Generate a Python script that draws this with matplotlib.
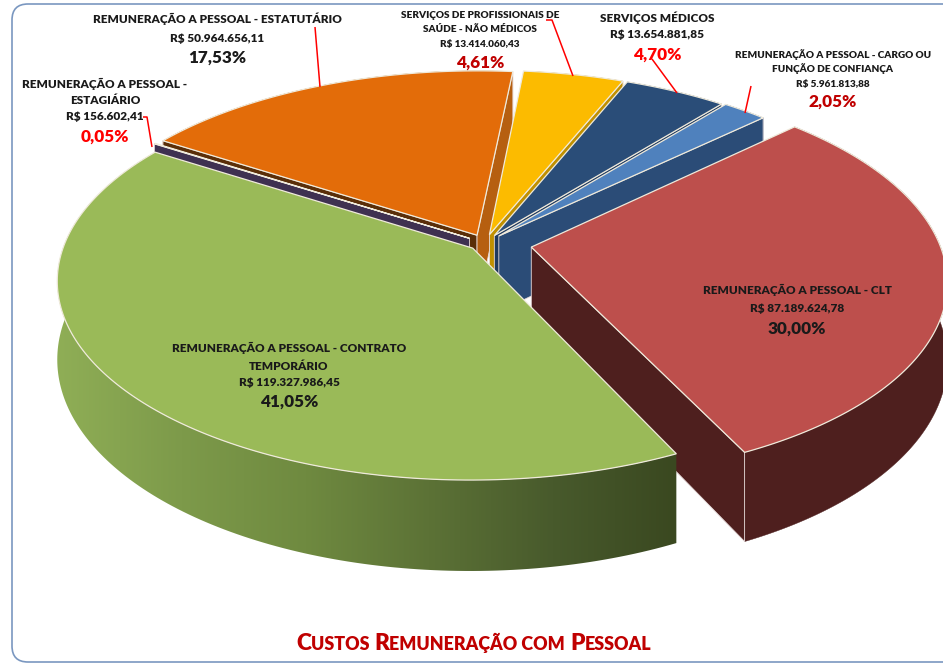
import numpy as np
import matplotlib
matplotlib.use("Agg")
import matplotlib.pyplot as plt
from matplotlib.colors import LinearSegmentedColormap
from matplotlib.patches import FancyBboxPatch, Polygon

plt.rcParams["font.family"] = ["Lato", "DejaVu Sans"]

# clockwise order of the slices, starting at the red one
categories = ["CLT", "CONTRATO TEMPORÁRIO", "ESTAGIÁRIO", "ESTATUTÁRIO",
              "PROFISSIONAIS", "MÉDICOS", "CONFIANÇA"]
values = [87189624.78, 119327986.45, 156602.41, 50964656.11,
          13414060.43, 13654881.85, 5961813.88]
percent_labels = ["30,00%", "41,05%", "0,05%", "17,53%", "4,61%", "4,70%", "2,05%"]
value_labels = ["R$ 87.189.624,78", "R$ 119.327.986,45", "R$ 156.602,41",
                "R$ 50.964.656,11", "R$ 13.414.060,43", "R$ 13.654.881,85",
                "R$ 5.961.813,88"]

# styling per slice
explode = [0.115, 0.04, 0.045, 0.045, 0.045, 0.045, 0.05]
top_colors = ["#bd4f4c", "#9aba58", "#8064a2", "#e36c09", "#fcbb00", "#2a4d78", "#4f81bd"]
rim_colors = ["#4e1f1e", "#5c7236", "#3f3151", "#b65f10", "#c09000", "#1f3a5f", "#2b4c77"]
start_face = ["#4e1f1e", "#4e6030", "#3f3151", "#5a2e08", "#c09000", "#1f3a5f", "#a9c0dd"]
end_face = ["#4e1f1e", "#3a4820", "#3f3151", "#b65f10", "#c09000", "#1f3a5f", "#2b4c77"]
draw_order = [3, 4, 5, 6, 2, 0, 1]

START_ANGLE = 43.4
CX, CY = 485.0, 243.0  # plane origin in pixels
A, B = 408.0, 193.0
K = 0.16  # perspective
DEPTH = 76.0
LABEL = 8.45
SMALL = 7.2
PCT = 12.3
WEIGHT = "heavy"


def project(x, y, z=0.0):
    w = 1 + K * y
    return np.column_stack([CX + A * x / w, CY - (B * y - DEPTH * z) / w])


def area(pts):
    x, y = pts[:, 0], pts[:, 1]
    return np.sum(x * np.roll(y, -1) - np.roll(x, -1) * y)


fig = plt.figure(figsize=(9.43, 6.63), dpi=100)
ax = fig.add_axes([0, 0, 1, 1])
ax.set_xlim(0, 943)
ax.set_ylim(663, 0)
ax.axis("off")

ax.add_patch(FancyBboxPatch((12, 4), 976, 658, boxstyle="round,pad=0,rounding_size=16",
                            fc="white", ec="#7a97c0", lw=1.2, zorder=0))

sweeps = 360.0 * np.array(values) / np.sum(values)
stops = START_ANGLE - np.concatenate([[0], np.cumsum(sweeps)])

green_cmap = LinearSegmentedColormap.from_list(
    "wall", ["#8fae56", "#7d9a4a", "#6f8a40", "#5c7236", "#485a2c", "#3a4820"])

z = 1
for i in draw_order:
    a1, a2 = stops[i], stops[i + 1]
    mid = np.radians((a1 + a2) / 2)
    ox, oy = explode[i] * np.cos(mid), explode[i] * np.sin(mid)
    th = np.radians(np.linspace(a1, a2, 160))
    rx, ry = ox + np.cos(th), oy + np.sin(th)
    top = project(rx, ry)
    bottom = project(rx, ry, 1.0)
    apex_top = project(np.array([ox]), np.array([oy]))
    apex_bot = project(np.array([ox]), np.array([oy]), 1.0)

    wall = np.vstack([top, bottom[::-1]])
    if i == 1:
        img = ax.imshow(np.linspace(0, 1, 256)[None, :], cmap=green_cmap,
                        extent=[57, 678, 580, 150], aspect="auto", zorder=z)
        clip = Polygon(wall, closed=True, fill=False, lw=0, zorder=z)
        ax.add_patch(clip)
        img.set_clip_path(clip)
    else:
        ax.add_patch(Polygon(wall, closed=True, fc=rim_colors[i], ec=rim_colors[i],
                             lw=0.3, zorder=z))
    z += 1

    # radial side walls, only the ones that face the viewer
    start_pts = np.vstack([apex_top, top[0], bottom[0], apex_bot])
    end_pts = np.vstack([apex_top, top[-1], bottom[-1], apex_bot])
    if area(start_pts) < 0:
        ax.add_patch(Polygon(start_pts, closed=True, fc=start_face[i], ec="#e8dcdc",
                             lw=0.6, zorder=z))
        z += 1
    if area(end_pts) > 0:
        ax.add_patch(Polygon(end_pts, closed=True, fc=end_face[i], ec="#e8dcdc",
                             lw=0.6, zorder=z))
        z += 1

    ax.add_patch(Polygon(np.vstack([apex_top, top]), closed=True, fc=top_colors[i],
                         ec="#efeadb", lw=0.9, zorder=z))
    z += 1

ax.set_xlim(0, 943)
ax.set_ylim(663, 0)

# leader lines
for xs, ys in [([315, 320], [27, 87]),
               ([143, 147, 152], [117, 117, 147]),
               ([546, 552, 573], [20, 20, 76]),
               ([652, 677], [59, 93]),
               ([751, 745], [86, 113])]:
    ax.plot(xs, ys, color="#ff0000", lw=1.1, zorder=z, solid_capstyle="butt")


def label(x, y, s, size, color="#1a1a1a"):
    ax.text(x, y, s, ha="center", va="center", fontsize=size, color=color,
            fontweight=WEIGHT, zorder=z + 1)


label(217, 19, "REMUNERAÇÃO A PESSOAL - ESTATUTÁRIO", LABEL)
label(217, 38, value_labels[3], LABEL)
label(217, 58, percent_labels[3], PCT)

label(105, 84, "REMUNERAÇÃO A PESSOAL -", LABEL)
label(105, 100, "ESTAGIÁRIO", LABEL)
label(105, 117, value_labels[2], LABEL)
label(105, 137, percent_labels[2], PCT, "#ff0000")

label(480, 15, "SERVIÇOS DE PROFISSIONAIS DE", SMALL)
label(480, 29, "SAÚDE - NÃO MÉDICOS", SMALL)
label(480, 44, value_labels[4], SMALL)
label(480, 63, percent_labels[4], PCT, "#c00000")

label(657, 18, "SERVIÇOS MÉDICOS", LABEL)
label(657, 35, value_labels[5], LABEL)
label(657, 55, percent_labels[5], PCT, "#ff0000")

label(833, 55, "REMUNERAÇÃO A PESSOAL - CARGO OU", SMALL)
label(833, 69, "FUNÇÃO DE CONFIANÇA", SMALL)
label(833, 84, value_labels[6], SMALL)
label(833, 102, percent_labels[6], PCT, "#c00000")

label(797, 290, "REMUNERAÇÃO A PESSOAL - CLT", LABEL)
label(797, 309, value_labels[0], LABEL)
label(797, 329, percent_labels[0], PCT)

label(289, 348, "REMUNERAÇÃO A PESSOAL - CONTRATO", LABEL)
label(289, 366, "TEMPORÁRIO", LABEL)
label(289, 382, value_labels[1], LABEL)
label(289, 402, percent_labels[1], PCT)

# title in small caps: the runs are placed one after the other
renderer = fig.canvas.get_renderer()
x_pos = 296.0
for run, size in [("C", 16.4), ("USTOS ", 12.9), ("R", 16.4), ("EMUNERAÇÃO COM ", 12.9),
                  ("P", 16.4), ("ESSOAL", 12.9)]:
    ax.text(x_pos, 650, run, ha="left", va="baseline", fontsize=size,
            color="#c00000", fontweight=WEIGHT, zorder=z + 1)
    # trailing spaces do not count in the extent, so measure with a stand-in
    probe = ax.text(0, 0, run.replace(" ", "i"), fontsize=size, fontweight=WEIGHT)
    x_pos += probe.get_window_extent(renderer).width
    probe.remove()

fig.savefig("out.png", dpi=100)
